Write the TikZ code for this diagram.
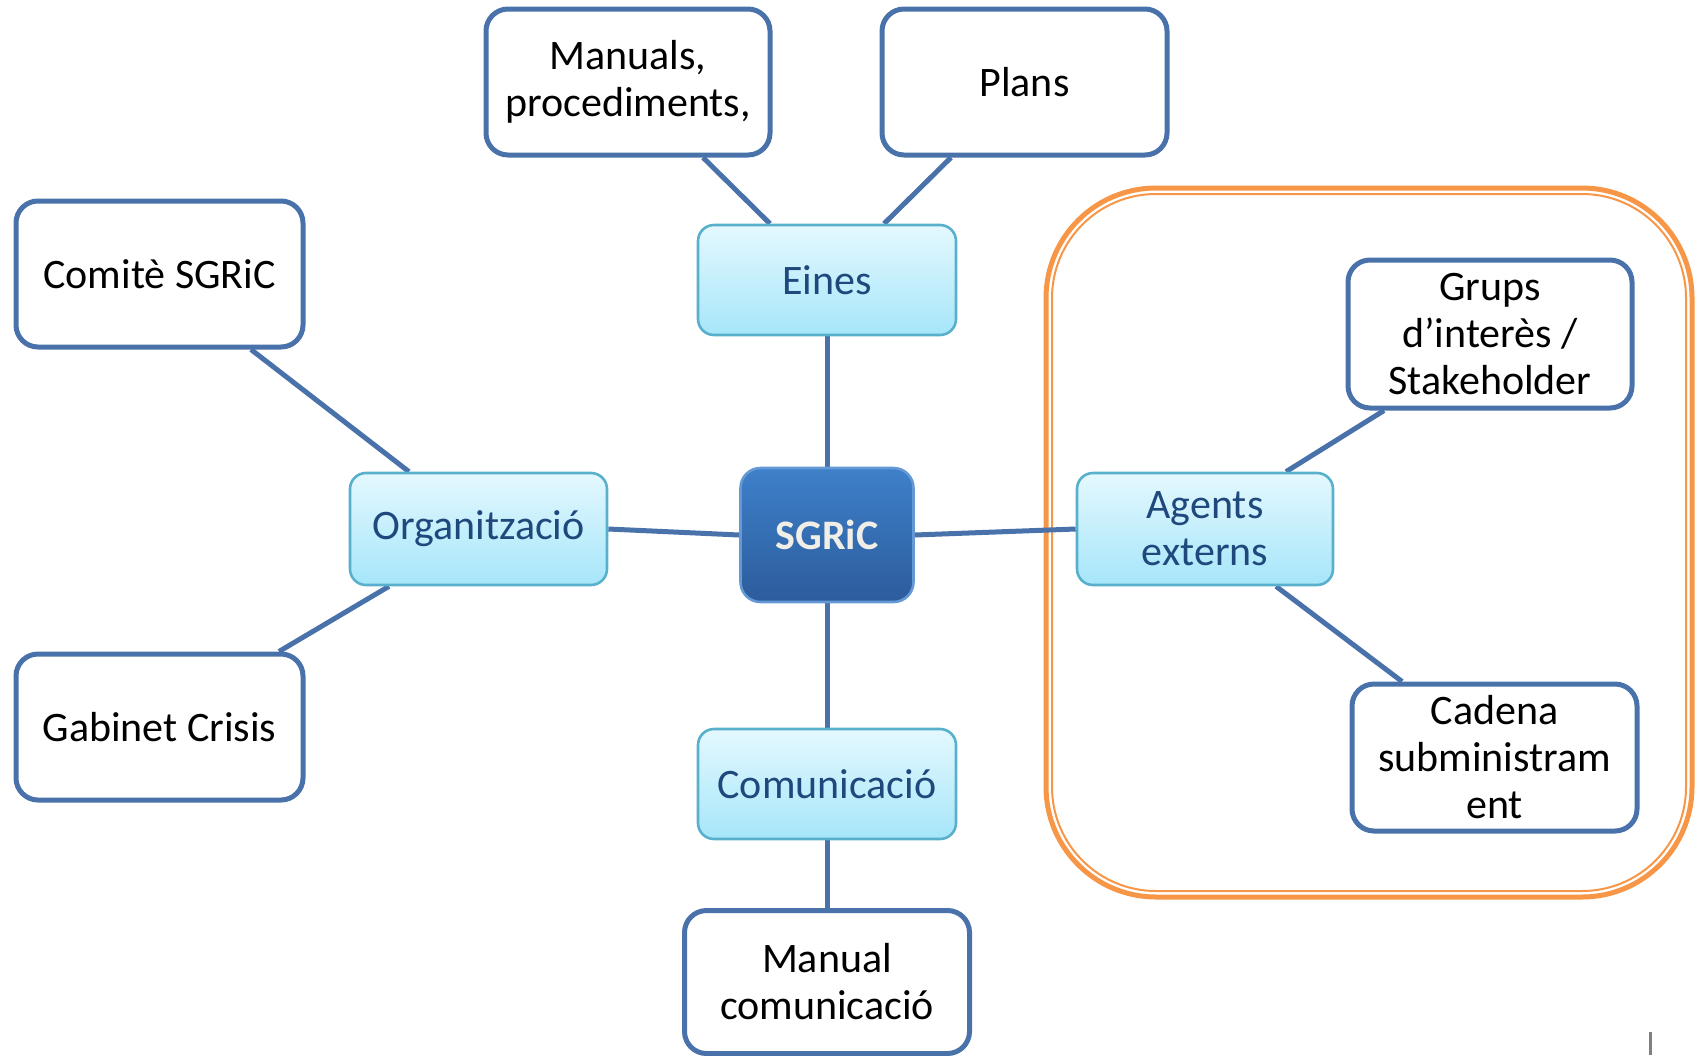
\documentclass[tikz,border=0pt]{standalone}
\usepackage{fontspec}
\setmainfont{Carlito}
\usetikzlibrary{calc,backgrounds}
\definecolor{linkblue}{RGB}{74,114,170}
\definecolor{lightedge}{RGB}{88,176,204}
\definecolor{lighttop}{RGB}{228,248,254}
\definecolor{lightbot}{RGB}{166,230,250}
\definecolor{navytext}{RGB}{31,73,125}
\definecolor{coretop}{RGB}{62,128,202}
\definecolor{corebot}{RGB}{44,92,156}
\definecolor{coretext}{RGB}{240,238,230}
\definecolor{orangeframe}{RGB}{247,150,70}
\tikzset{
  basefont/.style={font=\fontsize{21pt}{23.5pt}\selectfont},
  whitebox/.style={draw=linkblue, line width=2.5pt, fill=white, rounded corners=11pt,
    align=center, inner sep=0pt, text=black},
  lightbox/.style={draw=lightedge, line width=1.3pt, top color=lighttop, bottom color=lightbot,
    rounded corners=8pt, align=center, inner sep=0pt, text=navytext},
  corebox/.style={draw=coretop!80!white, line width=1.3pt, top color=coretop, bottom color=corebot,
    rounded corners=10pt, align=center, inner sep=0pt, text=coretext,
    font=\fontsize{21pt}{23.5pt}\selectfont\bfseries},
  link/.style={draw=linkblue, line width=2.5pt},
}
\begin{document}
\begin{tikzpicture}[x=0.5pt,y=-0.5pt,basefont]
\useasboundingbox (0,0) rectangle (1695,1055);
% nodes
\node[whitebox, minimum width=142pt, minimum height=73pt] (manuals) at (628,82) {Manuals,\\procediments,};
\node[whitebox, minimum width=142.5pt, minimum height=73pt] (plans) at (1024.5,82) {Plans};
\node[lightbox, minimum width=129pt, minimum height=55pt] (eines) at (827,280) {Eines};
\node[whitebox, minimum width=143.5pt, minimum height=73pt] (comite) at (159.5,274) {Comitè SGRiC};
\node[lightbox, minimum width=128.5pt, minimum height=56pt] (org) at (478.5,529) {Organització};
\node[corebox, minimum width=86.5pt, minimum height=67pt] (sgric) at (827,535) {SGRiC};
\node[lightbox, minimum width=128pt, minimum height=56pt] (agents) at (1205,529) {Agents\\externs};
\node[whitebox, minimum width=143.5pt, minimum height=73pt] (gabinet) at (159.5,727) {Gabinet Crisis};
\node[lightbox, minimum width=129pt, minimum height=55pt] (comun) at (827,784) {Comunicació};
\node[whitebox, minimum width=142.5pt, minimum height=71.5pt] (manualc) at (827,982) {Manual\\comunicació};
\node[whitebox, minimum width=142pt, minimum height=74pt] (grups) at (1490,334) {Grups\\d’interès /\\Stakeholder};
\node[whitebox, minimum width=142.5pt, minimum height=73.5pt] (cadena) at (1494.5,757.5) {Cadena\\subministram\\ent};
% background: frame and connectors
\begin{scope}[on background layer]
\draw[orangeframe, line width=2.5pt, rounded corners=55pt] (1046,188) rectangle (1692,897);
\draw[orangeframe, line width=1pt, rounded corners=52pt] (1052,194) rectangle (1686,891);
\draw[link] ($(manuals.south)+(75,0)$) -- ($(eines.north)+(-57,0)$);
\draw[link] ($(plans.south)+(-73.5,0)$) -- ($(eines.north)+(57,0)$);
\draw[link] (eines.south) -- (sgric.north);
\draw[link] ($(comite.south)+(91.5,0)$) -- ($(org.north)+(-69.5,0)$);
\draw[link] ($(gabinet.north)+(119.5,0)$) -- ($(org.south)+(-89.5,0)$);
\draw[link] (org.east) -- (sgric.west);
\draw[link] (sgric.east) -- (agents.west);
\draw[link] ($(grups.south)+(-106,0)$) -- ($(agents.north)+(81,0)$);
\draw[link] ($(cadena.north)+(-92.5,0)$) -- ($(agents.south)+(71,0)$);
\draw[link] (sgric.south) -- (comun.north);
\draw[link] (comun.south) -- (manualc.north);
\end{scope}
\coordinate (ticktop) at (1650,1032);
\coordinate (tickbot) at (1650,1055);
\draw[gray, line width=1.5pt] (ticktop) -- (tickbot);
\end{tikzpicture}
\end{document}
